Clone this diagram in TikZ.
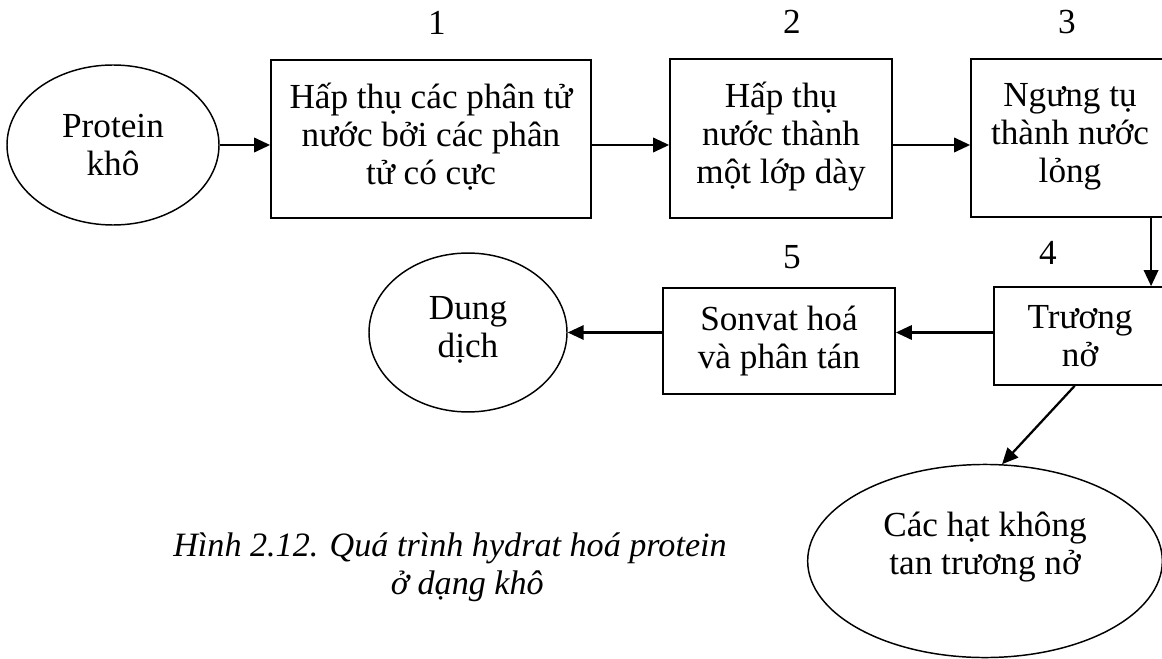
\documentclass[tikz,border=0pt]{standalone}
\usepackage{fontspec}
\setmainfont{Liberation Serif}
\usetikzlibrary{arrows.meta,shapes.geometric}

\begin{document}
\begin{tikzpicture}[x=0.375pt,y=-0.375pt,
  font=\fontsize{13.2}{14.25}\selectfont,
  procbox/.style={draw,line width=0.65pt,align=center,inner sep=0pt},
  blob/.style={draw,ellipse,line width=0.55pt,align=center,inner sep=0pt},
  lbl/.style={inner sep=0pt},
  flow/.style={line width=0.85pt,-{Triangle[length=6pt,width=5.4pt]}}]
\clip (0,0) rectangle (1162,659);

% top row
\node[blob,minimum width=79.5pt,minimum height=60pt] (pk) at (113,145) {Protein\\khô};
\node[procbox,minimum width=120pt,minimum height=59.25pt,text depth=4pt] (b1) at (431,139) {Hấp thụ các phân tử\\nước bởi các phân\\tử có cực};
\node[procbox,minimum width=83.25pt,minimum height=59.6pt,text depth=4pt] (b2) at (781,138.5) {Hấp thụ\\nước thành\\một lớp dày};
\node[procbox,minimum width=74.25pt,minimum height=59.25pt,text depth=4pt] (b3) at (1070,138) {Ngưng tụ\\thành nước\\lỏng};

\node[lbl] (n1) at (437,23) {1};
\node[lbl] (n2) at (792,22) {2};
\node[lbl] (n3) at (1067,22) {3};

% bottom row
\node[procbox,minimum width=64.5pt,minimum height=36.75pt] (b4) at (1080,336) {Trương\\nở};
\node[procbox,minimum width=87pt,minimum height=39.75pt] (b5) at (779,341) {Sonvat hoá\\và phân tán};
\node[blob,minimum width=74.25pt,minimum height=59.6pt,text depth=4pt] (dd) at (468,332.5) {Dung\\dịch};
\node[blob,minimum width=133pt,minimum height=72.4pt,text depth=13pt] (ht) at (985,561) {Các hạt không\\tan trương nở};

\node[lbl] (n4) at (1048,253) {4};
\node[lbl] (n5) at (792,257) {5};

\node[lbl,font=\fontsize{12.8}{14.25}\selectfont\itshape,align=center] (cap) at (450,567) {Hình 2.12. Quá trình hydrat hoá protein\\\hspace*{13pt}ở dạng khô};

% arrows
\draw[flow] (pk.east) -- (pk.east -| b1.west);
\draw[flow] (b1.east |- pk) -- (b2.west |- pk);
\draw[flow] (b2.east |- pk) -- (b3.west |- pk);
\draw[flow] ([xshift=30.4pt]b3.south) -- ([xshift=30.4pt]b3.south |- b4.north);
\draw[flow] (b4.west |- dd) -- (b5.east |- dd);
\draw[flow] (b5.west |- dd) -- (dd.east);
\draw[flow] ([xshift=-2pt]b4.south) -- (ht.80);
\end{tikzpicture}
\end{document}
